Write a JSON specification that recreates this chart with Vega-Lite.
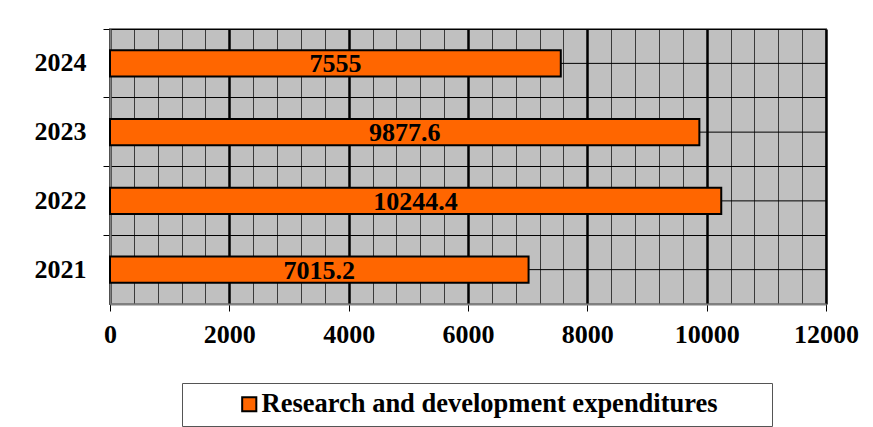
{
  "$schema": "https://vega.github.io/schema/vega-lite/v6.json",
  "autosize": {"type": "none"},
  "width": 716,
  "height": 275,
  "padding": {"left": 110, "top": 29, "right": 47, "bottom": 123},
  "background": "white",
  "config": {
    "view": {"fill": "#c0c0c0", "stroke": "#808080", "strokeWidth": 2},
    "font": "Liberation Serif"
  },
  "data": {
    "values": [
      {"year": "2024", "value": 7555, "series": "Research and development expenditures"},
      {"year": "2023", "value": 9877.6, "series": "Research and development expenditures"},
      {"year": "2022", "value": 10244.4, "series": "Research and development expenditures"},
      {"year": "2021", "value": 7015.2, "series": "Research and development expenditures"}
    ]
  },
  "resolve": {"axis": {"x": "independent"}},
  "encoding": {
    "y": {
      "field": "year",
      "type": "nominal",
      "sort": "descending",
      "scale": {"paddingInner": 0, "paddingOuter": 0},
      "axis": {
        "title": null,
        "bandPosition": 0,
        "grid": true,
        "gridColor": "black",
        "gridWidth": 1,
        "domainColor": "#808080",
        "domainWidth": 2,
        "tickColor": "black",
        "tickSize": 7,
        "labelPadding": 17,
        "labelFont": "Liberation Serif",
        "labelFontSize": 26,
        "labelFontWeight": "bold",
        "labelColor": "black"
      }
    }
  },
  "layer": [
    {
      "mark": {"type": "rule", "color": "black", "strokeWidth": 1},
      "encoding": {}
    },
    {
      "mark": {"type": "bar", "height": {"band": 0.38}, "stroke": "black", "strokeWidth": 2},
      "encoding": {
        "x": {
          "field": "value",
          "type": "quantitative",
          "scale": {"domain": [0, 12000], "nice": false},
          "axis": {
            "title": null,
            "values": [0, 400, 800, 1200, 1600, 2000, 2400, 2800, 3200, 3600, 4000, 4400, 4800, 5200, 5600, 6000, 6400, 6800, 7200, 7600, 8000, 8400, 8800, 9200, 9600, 10000, 10400, 10800, 11200, 11600, 12000],
            "grid": true,
            "gridColor": {"condition": {"test": "datum.value % 2000 === 0", "value": "black"}, "value": "#3a3a3a"},
            "gridWidth": {"condition": {"test": "datum.value % 2000 === 0", "value": 2.5}, "value": 1},
            "gridOpacity": 1,
            "tickOpacity": {"condition": {"test": "datum.value % 2000 === 0", "value": 1}, "value": 0},
            "tickColor": "black",
            "tickSize": 7,
            "labelExpr": "datum.value % 2000 === 0 ? datum.label : ''",
            "format": "d",
            "labelPadding": 10,
            "labelFont": "Liberation Serif",
            "labelFontSize": 26,
            "labelFontWeight": "bold",
            "labelColor": "black",
            "labelOverlap": false,
            "labelFlush": false,
            "domainColor": "#808080",
            "domainWidth": 2
          }
        },
        "color": {
          "field": "series",
          "type": "nominal",
          "scale": {"range": ["#ff6600"]},
          "legend": {
            "title": "_",
            "titleOrient": "right",
            "titleOpacity": 0,
            "titleFontSize": 10,
            "titlePadding": 41,
            "orient": "none",
            "legendX": 72,
            "legendY": 354,
            "direction": "horizontal",
            "strokeColor": "#555555",
            "fillColor": "white",
            "padding": 8,
            "symbolType": "square",
            "symbolSize": 200,
            "symbolStrokeColor": "black",
            "symbolStrokeWidth": 2,
            "symbolOffset": 46,
            "labelFont": "Liberation Serif",
            "labelFontSize": 26.5,
            "labelFontWeight": "bold",
            "labelColor": "black",
            "labelLimit": 800,
            "labelOffset": -1
          }
        }
      }
    },
    {
      "transform": [{"calculate": "datum.value / 2", "as": "mid"}],
      "mark": {"type": "text", "font": "Liberation Serif", "fontSize": 26, "fontWeight": "bold", "color": "black", "dy": 1},
      "encoding": {
        "x": {"field": "mid", "type": "quantitative", "axis": null},
        "text": {"field": "value", "type": "quantitative", "format": ""}
      }
    }
  ]
}
